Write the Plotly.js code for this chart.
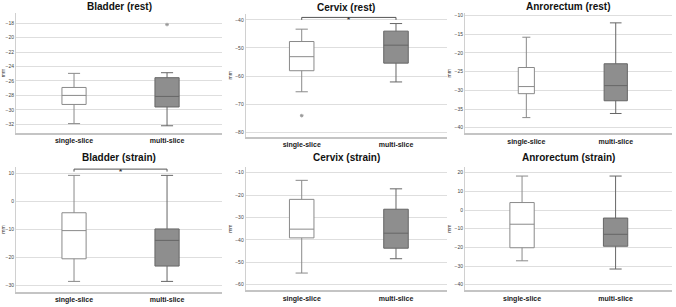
<!DOCTYPE html>
<html>
<head>
<meta charset="utf-8">
<script src="https://cdn.plot.ly/plotly-3.0.1.min.js"></script>
<style>
  html, body { margin: 0; padding: 0; background: #fff; }
  #chart { width: 676px; height: 307px; }
</style>
</head>
<body>
<div id="chart"></div>
<script>
// categories + panel titles
const groups = ['single-slice', 'multi-slice'];
const titles = ['Bladder (rest)', 'Cervix (rest)', 'Anrorectum (rest)',
                'Bladder (strain)', 'Cervix (strain)', 'Anrorectum (strain)'];

// box stats per panel: [single, multi] (mm)
const lowerFence = [[-31.9, -32.2], [-65.6, -62.1], [-37.3, -36.2], [-28.6, -28.6], [-54.8, -48.4], [-27.2, -31.6]];
const q1         = [[-29.25, -29.6], [-58.1, -55.4], [-30.9, -32.8], [-20.5, -23.1], [-39.1, -43.7], [-20.2, -19.4]];
const median     = [[-28.0, -28.14], [-53.1, -49.0], [-29.0, -28.75], [-10.4, -13.9], [-35.2, -37.0], [-7.6, -13.0]];
const q3         = [[-26.9, -25.55], [-47.7, -44.0], [-23.9, -22.9], [-4.0, -9.8], [-21.9, -26.3], [4.0, -4.3]];
const upperFence = [[-24.95, -24.86], [-43.3, -41.3], [-15.8, -11.96], [9.4, 9.4], [-13.4, -17.2], [18.2, 18.2]];

// outliers: [panel, group index, value]
const outliers = [[0, 1, -18.2], [1, 0, -74.1]];

// significance brackets (panel index)
const signif = [1, 3];

// axis ticks per panel
const yTicks = [
  [-18, -20, -22, -24, -26, -28, -30, -32],
  [-40, -50, -60, -70, -80],
  [-10, -15, -20, -25, -30, -35, -40],
  [10, 0, -10, -20, -30],
  [-10, -20, -30, -40, -50, -60],
  [20, 10, 0, -10, -20, -30, -40]
];
const yRanges = [[-33.2, -16.6], [-81.6, -37.9], [-41.5, -9.4], [-32.4, 12.4], [-62.5, -7.45], [-43, 23.05]];
const xRanges = [[-0.624, 1.591], [-0.594, 1.541], [-0.686, 1.626], [-0.624, 1.591], [-0.594, 1.541], [-0.61, 1.60]];

// panel rectangles in px [x0, x1, y0, y1]
const W = 676, H = 307;
const boxes = [
  [16, 222, 13, 133], [245.7, 447, 14, 136.7], [465, 671.7, 13.3, 133.3],
  [16, 222, 167, 292], [245.7, 447, 167, 290.3], [465, 671.7, 167, 290.3]
];

const fills = ['#ffffff', '#8e8e8e'];
const lines = ['#8a8a8a', '#666666'];

let data = [];
let layout = {
  template: 'none',
  width: W, height: H,
  margin: {l: 0, r: 0, t: 0, b: 0},
  paper_bgcolor: '#fff', plot_bgcolor: '#fff',
  showlegend: false,
  font: {family: 'Liberation Sans, Arial, sans-serif', color: '#222'},
  annotations: [],
  shapes: []
};

for (let p = 0; p < 6; p++) {
  let n = p === 0 ? '' : String(p + 1);
  for (let g = 0; g < 2; g++) {
    let w = (p === 2 && g === 0) ? 0.18 : 0.26;
    data.push({
      type: 'box',
      x: [groups[g]],
      q1: [q1[p][g]], median: [median[p][g]], q3: [q3[p][g]],
      lowerfence: [lowerFence[p][g]], upperfence: [upperFence[p][g]],
      width: w,
      whiskerwidth: 0.5,
      fillcolor: fills[g],
      line: {color: lines[g], width: 1},
      boxpoints: false,
      hoverinfo: 'skip',
      xaxis: 'x' + n, yaxis: 'y' + n
    });
  }

  let b = boxes[p];
  layout['xaxis' + n] = {
    domain: [b[0] / W, b[1] / W],
    anchor: 'y' + n,
    type: 'category',
    categoryorder: 'array', categoryarray: groups,
    range: xRanges[p],
    showgrid: false, zeroline: false,
    showline: true, linecolor: '#c4c4c4', linewidth: 2,
    ticks: '',
    tickfont: {size: 7, weight: 'bold', color: '#1a1a1a'}
  };
  layout['yaxis' + n] = {
    domain: [1 - b[3] / H, 1 - b[2] / H],
    anchor: 'x' + n,
    range: yRanges[p],
    tickvals: yTicks[p],
    showgrid: true, gridcolor: '#dedede', gridwidth: 1,
    zeroline: false,
    showline: true, linecolor: '#d0d0d0', linewidth: 1,
    ticks: '',
    tickfont: {size: 5, color: '#444'},
    title: {text: 'mm', font: {size: 5, color: '#333'}, standoff: 2}
  };
  layout.annotations.push({
    xref: 'x' + n + ' domain', yref: 'y' + n + ' domain',
    x: 0.5, y: 1, xanchor: 'center', yanchor: 'bottom', yshift: p >= 3 ? 2 : -1,
    text: '<b>' + titles[p] + '</b>',
    showarrow: false,
    font: {size: 10, color: '#111'}
  });
}

// outliers
outliers.forEach(o => {
  let n = o[0] === 0 ? '' : String(o[0] + 1);
  data.push({
    type: 'scatter', mode: 'markers',
    x: [groups[o[1]]], y: [o[2]],
    marker: {symbol: 'asterisk-open', size: 3, color: '#999', line: {color: '#999', width: 1}},
    hoverinfo: 'skip',
    xaxis: 'x' + n, yaxis: 'y' + n
  });
});

// significance brackets above the taller whisker
signif.forEach(p => {
  let n = p === 0 ? '' : String(p + 1);
  let span = yRanges[p][1] - yRanges[p][0];
  let top = Math.max(upperFence[p][0], upperFence[p][1]) + span * 0.05;
  let drop = span * 0.02;
  layout.shapes.push({
    type: 'path', xref: 'x' + n, yref: 'y' + n,
    path: 'M 0,' + (top - drop) + ' L 0,' + top + ' L 1,' + top + ' L 1,' + (top - drop),
    line: {color: '#555', width: 1}
  });
  layout.annotations.push({
    xref: 'x' + n, yref: 'y' + n,
    x: 0.5, y: top, xanchor: 'center', yanchor: 'middle', yshift: -2,
    text: '<b>*</b>', showarrow: false,
    font: {size: 8, color: '#333'}
  });
});

Plotly.newPlot('chart', data, layout, {staticPlot: true});
</script>
</body>
</html>
